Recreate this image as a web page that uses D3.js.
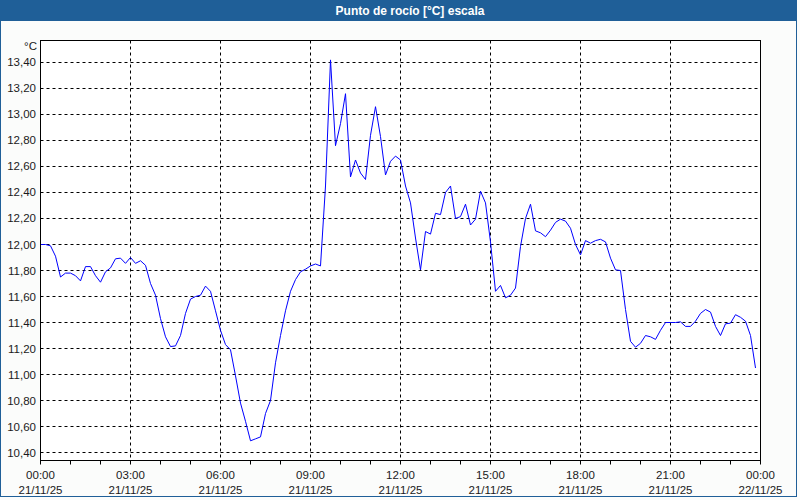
<!DOCTYPE html>
<html>
<head>
<meta charset="utf-8">
<script src="https://cdn.jsdelivr.net/npm/d3@7"></script>
<style>
  html, body { margin: 0; padding: 0; background: #ffffff; }
  svg { display: block; }
</style>
</head>
<body>
<svg id="chart" width="800" height="500"></svg>
<script>
// ---- Data ----
const title = "Punto de rocío [°C] escala";
const unitLabel = "°C";
const startTime = "2025-11-21T00:00:00";
const endTime = "2025-11-22T00:00:00";
const stepMinutes = 10;
const dewPoint = [
  12.00, 12.00, 11.99, 11.91, 11.75, 11.78, 11.78, 11.76, 11.72, 11.83,
  11.83, 11.76, 11.71, 11.79, 11.82, 11.89, 11.895, 11.855, 11.90, 11.855,
  11.875, 11.84, 11.70, 11.61, 11.43, 11.29, 11.215, 11.22, 11.30, 11.47,
  11.58, 11.60, 11.61, 11.68, 11.64, 11.49, 11.34, 11.23, 11.19, 10.99,
  10.78, 10.64, 10.49, 10.505, 10.52, 10.70, 10.80, 11.09, 11.30, 11.49,
  11.64, 11.73, 11.79, 11.81, 11.835, 11.85, 11.835, 12.45, 13.42, 12.76,
  12.93, 13.16, 12.52, 12.65, 12.55, 12.50, 12.84, 13.06, 12.83, 12.535,
  12.64, 12.68, 12.65, 12.45, 12.32, 12.05, 11.805, 12.10, 12.08, 12.24,
  12.23, 12.40, 12.45, 12.20, 12.215, 12.31, 12.15, 12.195, 12.41, 12.32,
  12.02, 11.64, 11.685, 11.59, 11.61, 11.665, 11.985, 12.20, 12.31, 12.105,
  12.09, 12.06, 12.11, 12.17, 12.195, 12.18, 12.125, 12.00, 11.92, 12.03,
  12.01, 12.03, 12.04, 12.02, 11.895, 11.805, 11.80, 11.50, 11.255, 11.21,
  11.24, 11.30, 11.29, 11.27, 11.34, 11.40, 11.40, 11.40, 11.405, 11.37,
  11.37, 11.41, 11.47, 11.50, 11.48, 11.37, 11.30, 11.39, 11.395, 11.46,
  11.44, 11.41, 11.30, 11.05
];
const yTicks = [10.4, 10.6, 10.8, 11.0, 11.2, 11.4, 11.6, 11.8, 12.0, 12.2, 12.4, 12.6, 12.8, 13.0, 13.2, 13.4];
const yDomain = [10.3385, 13.5692];

// ---- Setup ----
const svg = d3.select("#chart");
const W = 800, H = 500;
const plot = { left: 40.5, right: 760.5, top: 40.5, bottom: 460.5 };
const fontFam = "'Liberation Sans', Arial, sans-serif";
const textColor = "#1a1a1a";

const t0 = new Date(startTime), t1 = new Date(endTime);
const times = dewPoint.map((_, i) => d3.timeMinute.offset(t0, i * stepMinutes));
const data = dewPoint.map((v, i) => ({ t: times[i], v }));

const x = d3.scaleTime().domain([t0, t1]).range([plot.left, plot.right]);
const y = d3.scaleLinear().domain(yDomain).range([plot.bottom, plot.top]);

// background
svg.append("rect").attr("x", 0).attr("y", 0).attr("width", W).attr("height", H).attr("fill", "#fbfcfb");
// outer border
svg.append("rect").attr("x", 0.5).attr("y", 0.5).attr("width", 796).attr("height", 496)
  .attr("fill", "#fbfcfb").attr("stroke", "#1f5f98").attr("stroke-width", 1);
// title bar
svg.append("rect").attr("x", 0).attr("y", 0).attr("width", 797).attr("height", 21).attr("fill", "#1f5f98");
svg.append("text").attr("x", 410).attr("y", 15)
  .attr("text-anchor", "middle").attr("fill", "#ffffff")
  .attr("font-family", fontFam).attr("font-weight", "bold").attr("font-size", "12px")
  .text(title);

// plot area
svg.append("rect").attr("x", plot.left).attr("y", plot.top)
  .attr("width", plot.right - plot.left).attr("height", plot.bottom - plot.top)
  .attr("fill", "#ffffff");

// grid
const hours3 = d3.timeHour.every(3).range(d3.timeHour.offset(t0, 3), t1);
svg.append("g").selectAll("line").data(hours3).join("line")
  .attr("x1", d => Math.round(x(d) - 0.5) + 0.5).attr("x2", d => Math.round(x(d) - 0.5) + 0.5)
  .attr("y1", plot.top).attr("y2", plot.bottom)
  .attr("stroke", "#000").attr("stroke-width", 1).attr("stroke-dasharray", "3,3");
svg.append("g").selectAll("line").data(yTicks).join("line")
  .attr("x1", plot.left).attr("x2", plot.right)
  .attr("y1", d => Math.round(y(d) - 0.5) + 0.5).attr("y2", d => Math.round(y(d) - 0.5) + 0.5)
  .attr("stroke", "#000").attr("stroke-width", 1).attr("stroke-dasharray", "3,3");

// line
const line = d3.line().x(d => x(d.t)).y(d => y(d.v));
svg.append("path").datum(data).attr("d", line)
  .attr("fill", "none").attr("stroke", "#0000ff").attr("stroke-width", 1)
  .attr("stroke-linejoin", "round");

// plot border
svg.append("rect").attr("x", plot.left).attr("y", plot.top)
  .attr("width", plot.right - plot.left).attr("height", plot.bottom - plot.top)
  .attr("fill", "none").attr("stroke", "#000").attr("stroke-width", 1);

// y axis labels
const fmt = d => d3.format(".2f")(d).replace(".", ",");
svg.append("g").selectAll("text").data(yTicks).join("text")
  .attr("x", 36).attr("y", d => y(d) + 4)
  .attr("text-anchor", "end").attr("fill", textColor)
  .attr("font-family", fontFam).attr("font-size", "11.5px")
  .text(fmt);
svg.append("text").attr("x", 37).attr("y", 50).attr("text-anchor", "end")
  .attr("fill", textColor).attr("font-family", fontFam).attr("font-size", "11.5px")
  .text(unitLabel);

// x axis ticks (hourly)
const hours = d3.timeHour.every(1).range(t0, d3.timeHour.offset(t1, 1));
svg.append("g").selectAll("line").data(hours).join("line")
  .attr("x1", d => Math.round(x(d) - 0.5) + 0.5).attr("x2", d => Math.round(x(d) - 0.5) + 0.5)
  .attr("y1", plot.bottom).attr("y2", plot.bottom + 4)
  .attr("stroke", "#000").attr("stroke-width", 1);

// x labels
const majors = d3.timeHour.every(3).range(t0, d3.timeHour.offset(t1, 1));
const fTime = d3.timeFormat("%H:%M"), fDate = d3.timeFormat("%d/%m/%y");
const lbl = svg.append("g").selectAll("g").data(majors).join("g");
lbl.append("text").attr("x", d => x(d)).attr("y", 479)
  .attr("text-anchor", "middle").attr("fill", textColor)
  .attr("font-family", fontFam).attr("font-size", "11.5px").text(fTime);
lbl.append("text").attr("x", d => x(d)).attr("y", 494)
  .attr("text-anchor", "middle").attr("fill", textColor)
  .attr("font-family", fontFam).attr("font-size", "11.5px").text(fDate);
</script>
</body>
</html>
